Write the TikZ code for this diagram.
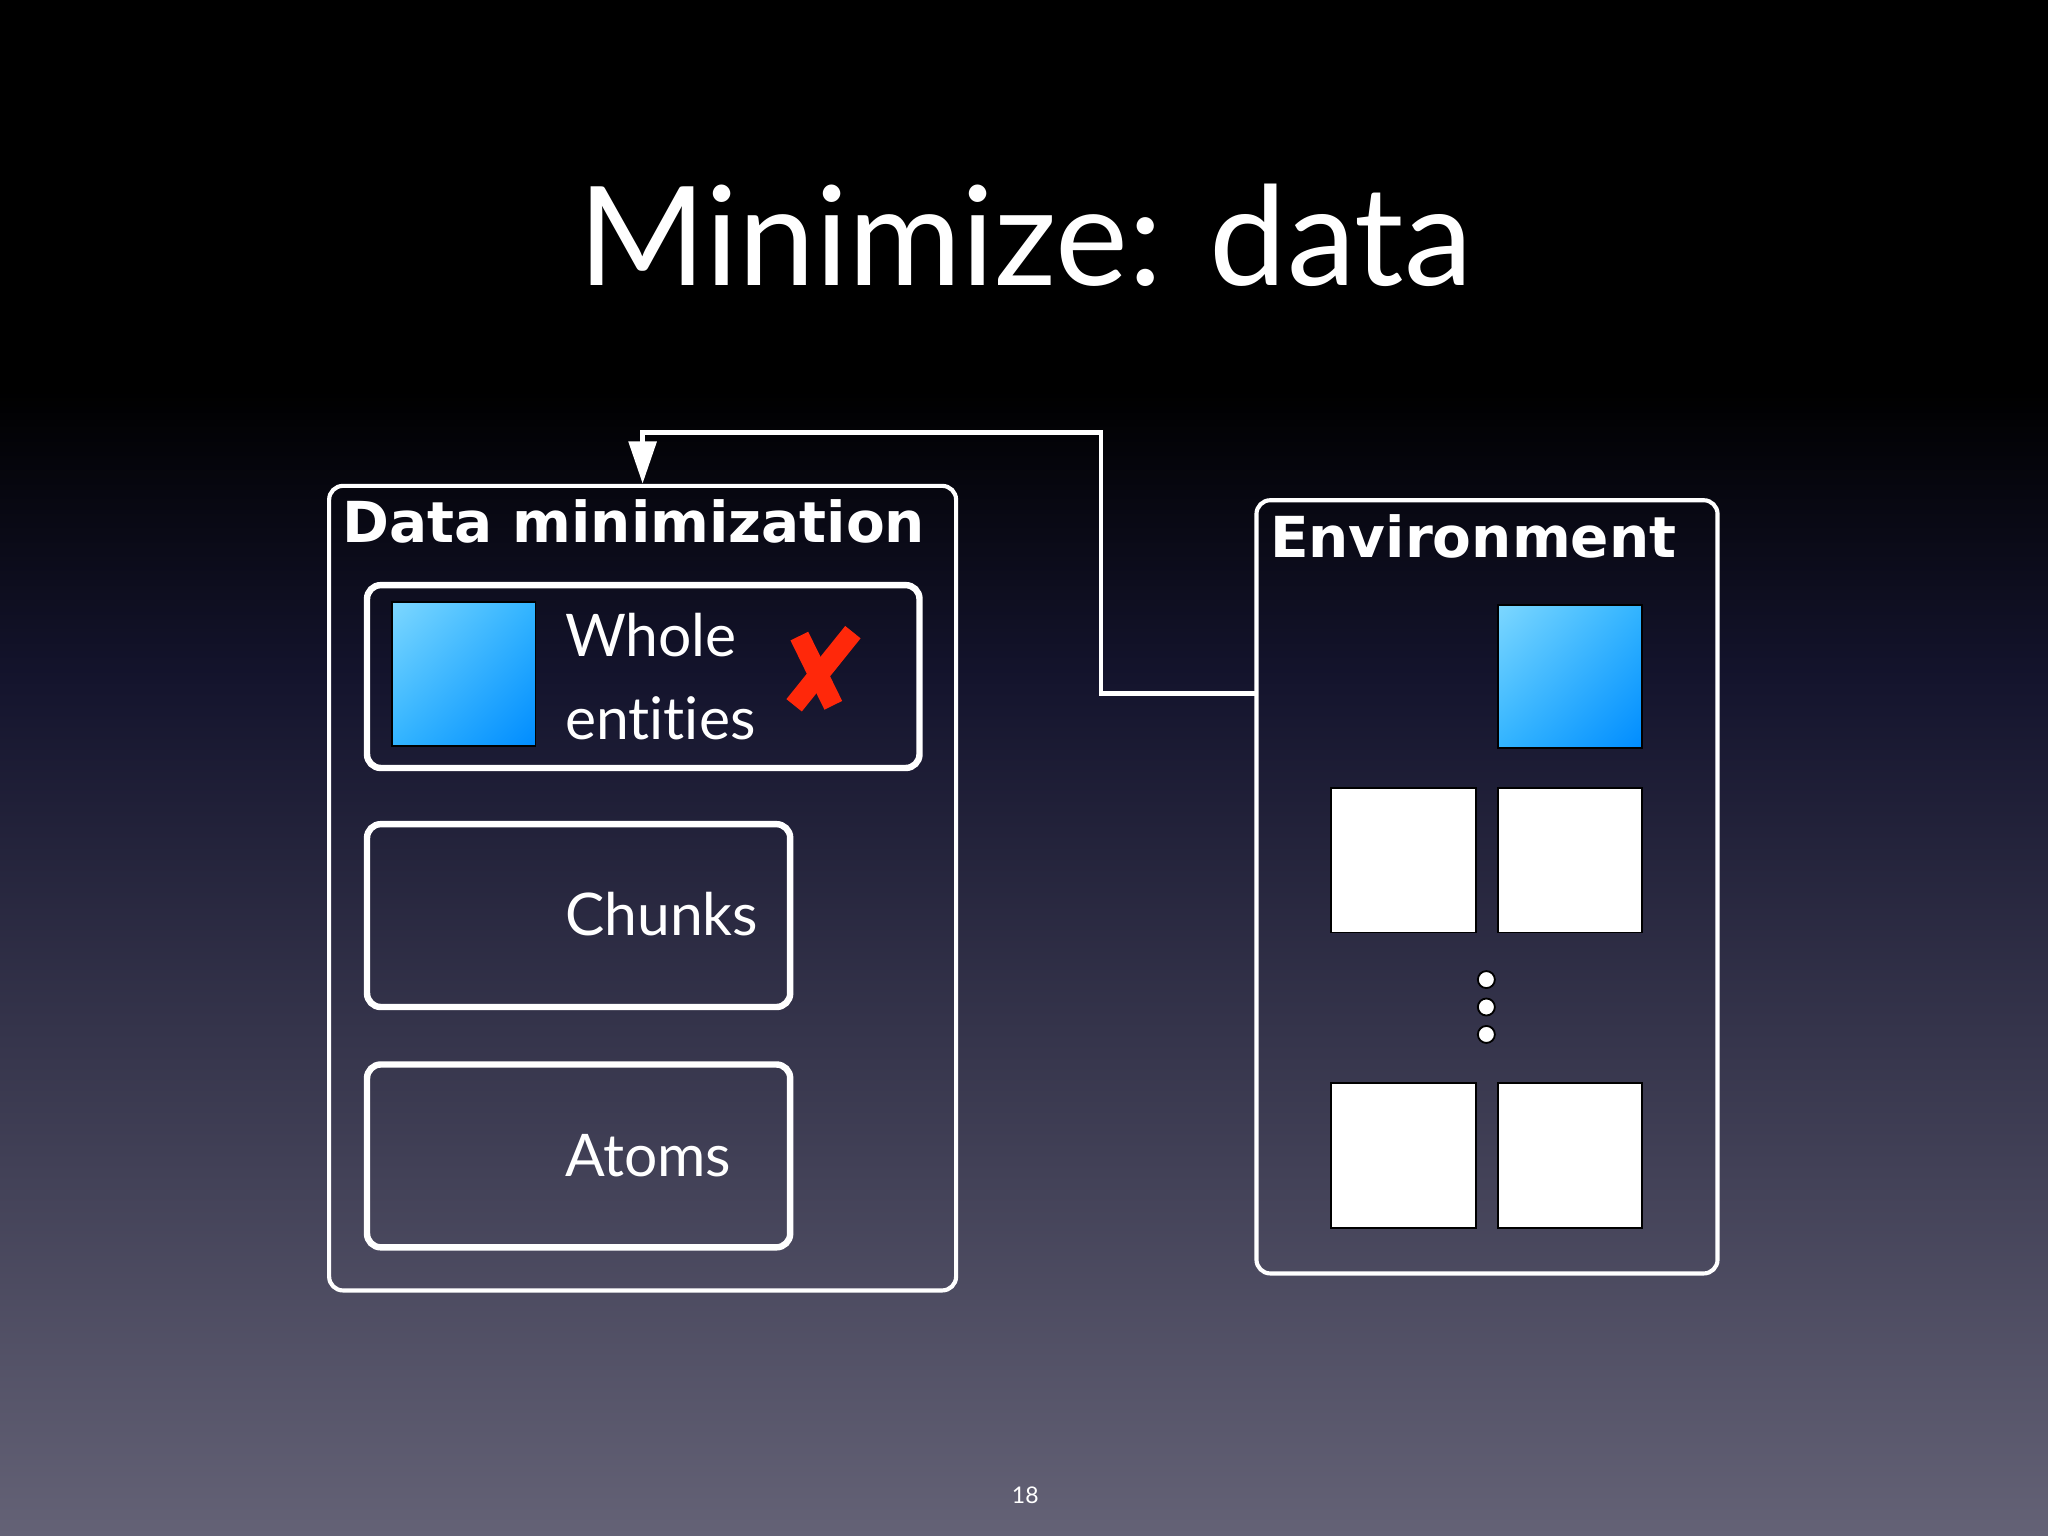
\documentclass[tikz,border=0pt]{standalone}
\usepackage{fontspec}
\usetikzlibrary{shadings}
\setmainfont{Lato}[Ligatures=NoCommon]
\newfontfamily\boldfont{DejaVu Sans}[BoldFont={DejaVu Sans Bold}]
\definecolor{bgbot}{RGB}{100,98,118}
\definecolor{bgmid}{RGB}{20,20,45}
\definecolor{bluel}{RGB}{125,215,255}
\definecolor{blued}{RGB}{0,140,255}
\definecolor{bluem}{RGB}{50,180,255}
\definecolor{redx}{RGB}{255,40,10}
\tikzset{
 frame/.style={draw=white,line width=0.9pt,rounded corners=3pt},
 inbox/.style={draw=white,line width=1.4pt,rounded corners=3pt},
 wsq/.style={draw=black,fill=white,line width=0.4pt},
 lbl/.style={text=white,anchor=west,font=\fontsize{12.8}{15}\selectfont,align=left,inner sep=0pt},
 hdr/.style={text=white,anchor=west,font=\boldfont\bfseries\fontsize{12.3}{14}\selectfont},
 dot/.style={circle,draw=black,fill=white,line width=0.4pt,minimum size=0.13cm,inner sep=0pt}
}
\begin{document}
\begin{tikzpicture}[x=0.01cm,y=-0.01cm]
\useasboundingbox (0,0) rectangle (1568,1176);
\fill[black] (0,0) rectangle (1568,300);
\shade[top color=black,bottom color=bgmid] (0,299) rectangle (1568,520);
\shade[top color=bgmid,bottom color=bgbot] (0,519) rectangle (1568,1176);
\node[text=white,font=\fontsize{30}{36}\selectfont] (title) at (785,180) {Minimize: data};
\node[text=white,font=\fontsize{5}{6}\selectfont] (pg) at (785,1145) {18};
% left frame
\draw[frame] (252,372) rectangle (732,988);
\node[hdr] (h1) at (250,399) {Data minimization};
\draw[inbox] (281,448) rectangle (704,588);
\shade[upper left=bluel,upper right=bluem,lower left=bluem,lower right=blued,draw=black] (300,461) rectangle (410,571);
\node[lbl] (whole) at (432,518) {Whole\\[0.25em]ent\kern0pt ities};
\draw[redx,line width=4.3pt] (612,487) -- (638,540);
\draw[redx,line width=4.3pt] (653,484) -- (608,540);
\draw[inbox] (281,631) rectangle (605,771);
\node[lbl] (chunks) at (432,700) {Chunks};
\draw[inbox] (281,815) rectangle (605,955);
\node[lbl] (atoms) at (432,885) {Atoms};
% environment
\draw[frame] (962,383) rectangle (1315,975);
\node[hdr] (h2) at (960,411) {Environment};
\shade[upper left=bluel,upper right=bluem,lower left=bluem,lower right=blued,draw=black] (1147,463) rectangle (1257,573);
\draw[wsq] (1019,603) rectangle (1130,714);
\draw[wsq] (1147,603) rectangle (1257,714);
\draw[wsq] (1019,829) rectangle (1130,940);
\draw[wsq] (1147,829) rectangle (1257,940);
\node[dot] (d1) at (1138,750) {};
\node[dot] (d2) at (1138,771) {};
\node[dot] (d3) at (1138,792) {};
% connector
\coordinate (envl) at (962,531);
\coordinate (dmt) at (492,370);
\draw[white,line width=1pt] (envl) -- (843,531) -- (843,331) -- (492,331) -- (492,345);
\fill[white] (481,338) -- (503,338) -- (dmt) -- cycle;
\end{tikzpicture}
\end{document}
